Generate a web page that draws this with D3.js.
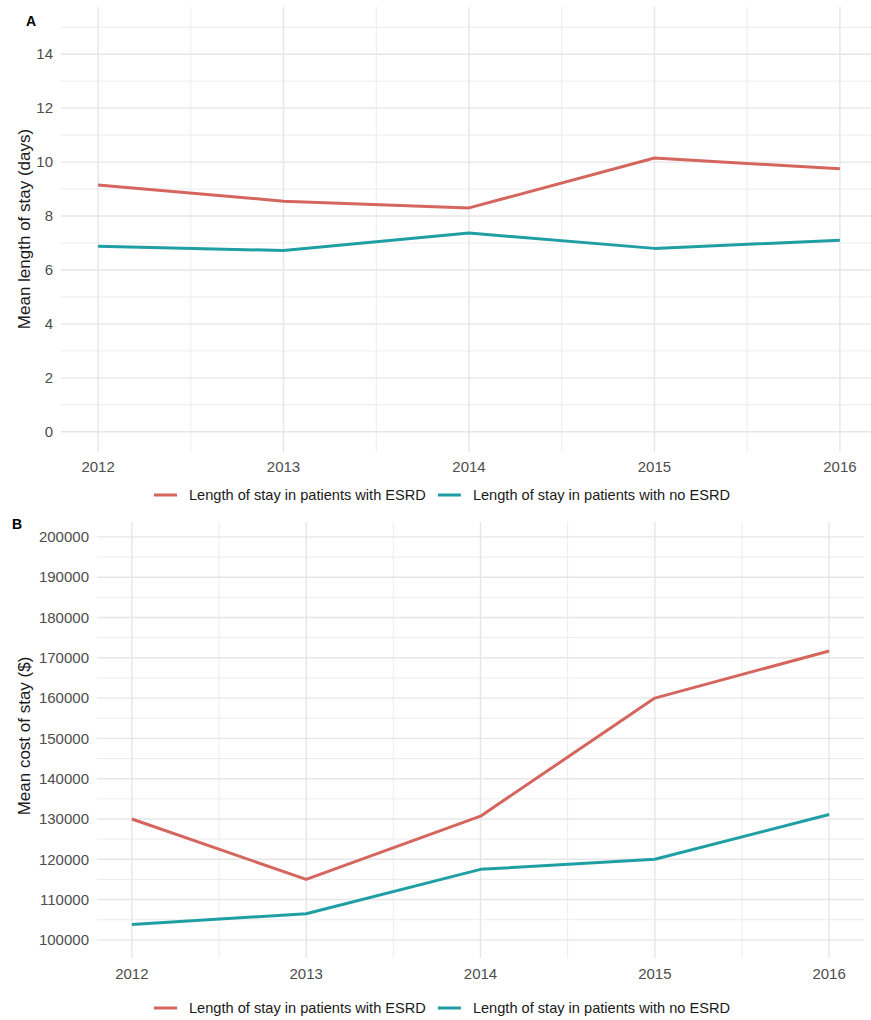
<!DOCTYPE html>
<html>
<head>
<meta charset="utf-8">
<script src="https://cdn.jsdelivr.net/npm/d3@7.9.0/dist/d3.min.js"></script>
<style>
  html, body { margin: 0; padding: 0; background: #fff; }
  svg { display: block; font-family: Arial, "Liberation Sans", sans-serif; }
</style>
</head>
<body>
<svg id="chart" width="871" height="1020"></svg>
<script>
// data
const years = [2012, 2013, 2014, 2015, 2016];
const seriesNames = ["Length of stay in patients with ESRD", "Length of stay in patients with no ESRD"];
const seriesColors = ["#d4665e", "#1f9fa3"];

const losEsrd   = [9.15, 8.55, 8.3, 10.15, 9.75];
const losNoEsrd = [6.88, 6.72, 7.37, 6.8, 7.1];

const costEsrd   = [130000, 115000, 130700, 160000, 171700];
const costNoEsrd = [103800, 106500, 117500, 120000, 131100];

const losTicks  = [0, 2, 4, 6, 8, 10, 12, 14];
const costTicks = d3.range(100000, 200001, 10000);

const svg = d3.select("#chart");

function drawPanel(cfg) {
  const g = svg.append("g");
  const x = d3.scaleLinear().domain([2011.8, 2016.2]).range(cfg.xRange);
  const y = d3.scaleLinear().domain(cfg.yDomain).range(cfg.yRange);
  const [x0, x1] = cfg.xRange;
  const [y1, y0] = cfg.yRange;

  // minor grid
  const step = cfg.yTicks[1] - cfg.yTicks[0];
  const minorY = d3.range(cfg.yDomain[0], cfg.yDomain[1], step / 2)
    .map(v => Math.round((v) / (step / 2)) * (step / 2))
    .filter(v => v > cfg.yDomain[0] && v < cfg.yDomain[1] && !cfg.yTicks.includes(v));
  const minorX = [2012.5, 2013.5, 2014.5, 2015.5];

  g.selectAll(".ymin").data(minorY).join("line")
    .attr("x1", x0).attr("x2", x1)
    .attr("y1", d => y(d)).attr("y2", d => y(d))
    .attr("stroke", "#ececec").attr("stroke-width", 1);
  g.selectAll(".xmin").data(minorX).join("line")
    .attr("x1", d => x(d)).attr("x2", d => x(d))
    .attr("y1", y0).attr("y2", y1)
    .attr("stroke", "#ececec").attr("stroke-width", 1);

  // major grid
  g.selectAll(".ymaj").data(cfg.yTicks).join("line")
    .attr("x1", x0).attr("x2", x1)
    .attr("y1", d => y(d)).attr("y2", d => y(d))
    .attr("stroke", "#e6e6e6").attr("stroke-width", 1.4);
  g.selectAll(".xmaj").data(years).join("line")
    .attr("x1", d => x(d)).attr("x2", d => x(d))
    .attr("y1", y0).attr("y2", y1)
    .attr("stroke", "#e6e6e6").attr("stroke-width", 1.4);

  // tick labels
  g.selectAll(".ylab").data(cfg.yTicks).join("text")
    .attr("x", x0 - 8).attr("y", d => y(d)).attr("dy", "0.35em")
    .attr("text-anchor", "end").attr("font-size", 15).attr("fill", "#4d4d4d")
    .text(d => d);
  g.selectAll(".xlab").data(years).join("text")
    .attr("x", d => x(d)).attr("y", cfg.xLabelY).attr("dy", "0.35em")
    .attr("text-anchor", "middle").attr("font-size", 15).attr("fill", "#4d4d4d")
    .text(d => d);

  // axis title
  g.append("text")
    .attr("transform", `translate(${cfg.titleX},${cfg.titleY}) rotate(-90)`)
    .attr("text-anchor", "middle").attr("dy", "0.35em")
    .attr("font-size", 17).attr("fill", "#1a1a1a")
    .text(cfg.title);

  // panel tag
  g.append("text")
    .attr("x", cfg.tagX).attr("y", cfg.tagY)
    .attr("font-size", 14).attr("font-weight", "bold").attr("fill", "#000")
    .text(cfg.tag);

  // lines
  const line = d3.line().x((d, i) => x(years[i])).y(d => y(d));
  cfg.series.forEach((s, i) => {
    g.append("path").datum(s)
      .attr("fill", "none").attr("stroke", seriesColors[i])
      .attr("stroke-width", 3).attr("stroke-linejoin", "round")
      .attr("d", line);
  });

  // legend
  let lx = 154;
  seriesNames.forEach((name, i) => {
    g.append("line")
      .attr("x1", lx).attr("x2", lx + 23)
      .attr("y1", cfg.legendY).attr("y2", cfg.legendY)
      .attr("stroke", seriesColors[i]).attr("stroke-width", 3);
    const t = g.append("text")
      .attr("x", lx + 35).attr("y", cfg.legendY).attr("dy", "0.35em")
      .attr("font-size", 14.6).attr("fill", "#1a1a1a")
      .text(name);
    lx = lx + 35 + t.node().getComputedTextLength() + 12;
  });
}

drawPanel({
  xRange: [61, 877],
  yDomain: [-0.75, 15.75],
  yRange: [452, 7],
  yTicks: losTicks,
  xLabelY: 467,
  legendY: 495,
  title: "Mean length of stay (days)",
  titleX: 24, titleY: 229,
  tag: "A", tagX: 26, tagY: 26,
  series: [losEsrd, losNoEsrd]
});

drawPanel({
  xRange: [97, 864],
  yDomain: [95500, 203700],
  yRange: [958, 522],
  yTicks: costTicks,
  xLabelY: 974,
  legendY: 1008,
  title: "Mean cost of stay ($)",
  titleX: 24, titleY: 736,
  tag: "B", tagX: 12, tagY: 529,
  series: [costEsrd, costNoEsrd]
});
</script>
</body>
</html>
